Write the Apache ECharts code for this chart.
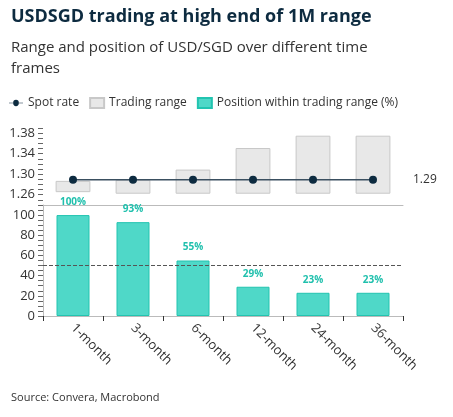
<!DOCTYPE html>
<html><head><meta charset="utf-8">
<script src="https://cdn.jsdelivr.net/npm/echarts@6/dist/echarts.min.js"></script>
<style>html,body{margin:0;padding:0;background:#fff}#c{width:453px;height:417px}</style>
</head><body><div id="c"></div>
<script>
const categories = ['1-month','3-month','6-month','12-month','24-month','36-month'];
const spotRate = [1.289,1.289,1.289,1.289,1.289,1.289];
const rangeLow = [1.265,1.262,1.262,1.262,1.262,1.262];
const rangeHigh = [1.287,1.289,1.309,1.351,1.375,1.375];
const position = [100,93,55,29,23,23];
const topTicks = [1.26,1.30,1.34,1.38];

const F = 'Open Sans';
const chart = echarts.init(document.getElementById('c'));
const teal = '#4fd8c8';
chart.setOption({
  animation:false,
  textStyle:{fontFamily:F},
  title:[
    {text:'USDSGD trading at high end of 1M range',left:6,top:3,textStyle:{fontFamily:F,fontSize:18,fontWeight:'bold',color:'#0d2b40'}},
    {text:'Range and position of USD/SGD over different time\nframes',left:6,top:32,textStyle:{fontFamily:F,fontSize:15,fontWeight:'normal',color:'#333',lineHeight:21}},
    {text:'Source: Convera, Macrobond',left:6,top:387,textStyle:{fontFamily:F,fontSize:11,fontWeight:'normal',color:'#333'}}
  ],
  legend:{left:4,top:92,itemGap:10,itemWidth:14,itemHeight:10,textStyle:{fontFamily:F,fontSize:12,color:'#333'},
    data:[{name:'Spot rate',icon:'path://M0,5L6,5A4,4,0,1,1,14,5L20,5L20,6L14,6A4,4,0,1,1,6,6L0,6Z',itemStyle:{color:'#0d2b40'}},
          {name:'Trading range',icon:'rect'},{name:'Position within trading range (%)',icon:'rect'}]},
  grid:[
    {left:43,right:50,top:128,height:77},
    {left:43,right:50,top:205,height:111}
  ],
  xAxis:[
    {gridIndex:0,type:'category',data:categories,axisLabel:{show:false},axisTick:{show:false},axisLine:{lineStyle:{color:'#bbb'}}},
    {gridIndex:1,type:'category',data:categories,axisTick:{show:true,lineStyle:{color:'#333'}},axisLine:{lineStyle:{color:'#bbb'}},
     axisLabel:{rotate:-45,fontSize:13,color:'#333',margin:10,fontFamily:F}}
  ],
  yAxis:[
    {gridIndex:0,type:'value',min:1.24,max:1.39,interval:0.01,splitLine:{show:false},
     axisLine:{show:false},axisTick:{show:true,length:5,lineStyle:{color:'#666'}},
     axisLabel:{fontSize:13,color:'#333',formatter:v=>topTicks.some(t=>Math.abs(t-v)<1e-6)?v.toFixed(2):''}},
    {gridIndex:1,type:'value',min:0,max:110,interval:10,splitLine:{show:false},
     axisLine:{show:true,lineStyle:{color:'#bbb'}},axisTick:{show:true,length:5,lineStyle:{color:'#666'}},
     minorTick:{show:true,splitNumber:2,length:5,lineStyle:{color:'#666'}},
     axisLabel:{fontSize:13,color:'#333',formatter:v=>v%20===0&&v<=100?String(v):''}}
  ],
  series:[
    {name:'base',type:'bar',stack:'r',xAxisIndex:0,yAxisIndex:0,data:rangeLow,itemStyle:{color:'transparent'},barWidth:'58%',silent:true},
    {name:'Trading range',type:'bar',stack:'r',xAxisIndex:0,yAxisIndex:0,
     data:rangeHigh.map((h,i)=>+(h-rangeLow[i]).toFixed(4)),
     itemStyle:{color:'#e8e8e8',borderColor:'#c8c8c8',borderWidth:1}},
    {name:'Spot rate',type:'line',xAxisIndex:0,yAxisIndex:0,data:spotRate,symbol:'circle',symbolSize:8,
     itemStyle:{color:'#0d2b40'},lineStyle:{color:'#3a4f60',width:1.5},
     endLabel:{show:true,distance:40,fontSize:12,color:'#333',formatter:p=>p.value.toFixed(2)}},
    {name:'Position within trading range (%)',type:'bar',xAxisIndex:1,yAxisIndex:1,data:position,barWidth:'55%',
     itemStyle:{color:teal,borderColor:'#22c4b0',borderWidth:1},
     label:{show:true,position:'top',distance:8,color:'#20c0ad',fontSize:10,fontWeight:'bold',formatter:'{c}%'},
     markLine:{silent:true,symbol:'none',label:{show:false},lineStyle:{type:'dashed',color:'#555',width:1},data:[{yAxis:50}]}}
  ]
});
</script></body></html>
